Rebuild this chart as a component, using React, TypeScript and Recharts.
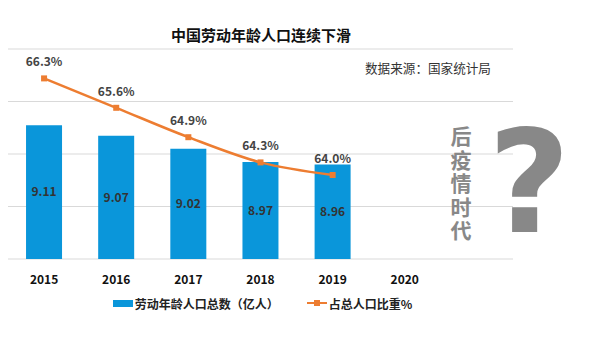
import React from 'react'
import { ComposedChart, Bar, Line, XAxis, YAxis, CartesianGrid, LabelList, Legend } from 'recharts'

const years = ['2015', '2016', '2017', '2018', '2019', '2020', '']
const workforce = [9.11, 9.07, 9.02, 8.97, 8.96, null, null]
const share = [66.3, 65.6, 64.9, 64.3, 64.0, null, null]

const FONT = "'Noto Sans CJK SC', 'Noto Sans', sans-serif"
const BLUE = '#0A96DA'
const ORANGE = '#ED7D31'

const data = years.map((y, i) => ({ year: y, workforce: workforce[i], share: share[i] }))

const SquareDot = (props: any) => {
  const { cx, cy, value } = props
  if (value == null || cx == null || cy == null) return <g />
  return <rect x={cx - 3} y={cy - 3} width={6} height={6} fill={ORANGE} />
}

const LegendContent = () => (
  <div style={{ display: 'flex', justifyContent: 'center', alignItems: 'center', fontFamily: FONT, fontSize: 12, fontWeight: 'bold', color: '#222', height: 20, paddingLeft: 4 }}>
    <span style={{ display: 'inline-block', width: 20, height: 7, background: BLUE, marginRight: 2 }} />
    <span>劳动年龄人口总数（亿人）</span>
    <span style={{ display: 'inline-block', width: 28 }} />
    <svg width={20} height={8} style={{ marginRight: 2 }}>
      <line x1={0} y1={4} x2={20} y2={4} stroke={ORANGE} strokeWidth={2} />
      <rect x={7} y={1} width={6} height={6} fill={ORANGE} />
    </svg>
    <span>占总人口比重%</span>
  </div>
)

export default function App() {
  return (
    <div style={{ position: 'absolute', left: 0, top: 0, width: 600, height: 338, background: '#fff', fontFamily: FONT }}>
      <ComposedChart
        width={600}
        height={338}
        data={data}
        margin={{ top: 49, right: 87, bottom: 25, left: 8 }}
        barCategoryGap="25%"
      >
        <CartesianGrid vertical={false} stroke="#d9d9d9" yAxisId="left" />
        <XAxis
          dataKey="year"
          axisLine={false}
          tickLine={false}
          height={34}
          tick={{ fill: '#111', fontSize: 12, fontWeight: 'bold', fontFamily: FONT }}
          tickMargin={10}
          interval={0}
        />
        <YAxis yAxisId="left" domain={[8.6, 9.4]} ticks={[8.6, 8.8, 9.0, 9.2, 9.4]} hide />
        <YAxis yAxisId="right" orientation="right" domain={[62, 67]} hide />
        <Legend verticalAlign="bottom" content={<LegendContent />} wrapperStyle={{ height: 20 }} />
        <Bar yAxisId="left" dataKey="workforce" fill={BLUE} isAnimationActive={false} legendType="rect">
          <LabelList
            dataKey="workforce"
            position="center"
            fill="#333"
            fontSize={12}
            fontWeight="bold"
            fontFamily={FONT}
            formatter={(v: any) => (v == null ? '' : Number(v).toFixed(2))}
          />
        </Bar>
        <Line
          yAxisId="right"
          type="monotone"
          dataKey="share"
          stroke={ORANGE}
          strokeWidth={2.5}
          dot={<SquareDot />}
          activeDot={false}
          connectNulls={false}
          isAnimationActive={false}
        >
          <LabelList
            dataKey="share"
            position="top"
            offset={12}
            fill="#444"
            fontSize={12}
            fontWeight="bold"
            fontFamily={FONT}
            formatter={(v: any) => (v == null ? '' : `${Number(v).toFixed(1)}%`)}
          />
        </Line>
      </ComposedChart>
      <div style={{ position: 'absolute', left: 0, width: 522, top: 25, textAlign: 'center', fontSize: 15, fontWeight: 'bold', color: '#111', lineHeight: '20px' }}>
        中国劳动年龄人口连续下滑
      </div>
      <div style={{ position: 'absolute', left: 365, top: 59, fontSize: 12.6, color: '#333', lineHeight: '18px' }}>
        数据来源：国家统计局
      </div>
      <div style={{ position: 'absolute', left: 449, top: 126, writingMode: 'vertical-rl', fontSize: 21, lineHeight: '24px', letterSpacing: 2.5, fontWeight: 'bold', color: '#888' }}>
        后疫情时代
      </div>
      <div style={{ position: 'absolute', left: 488, top: 112, width: 80, textAlign: 'center', fontSize: 142, lineHeight: '142px', fontWeight: 'bold', color: '#888', fontFamily: "'DejaVu Sans', sans-serif" }}>
        ?
      </div>
    </div>
  )
}
